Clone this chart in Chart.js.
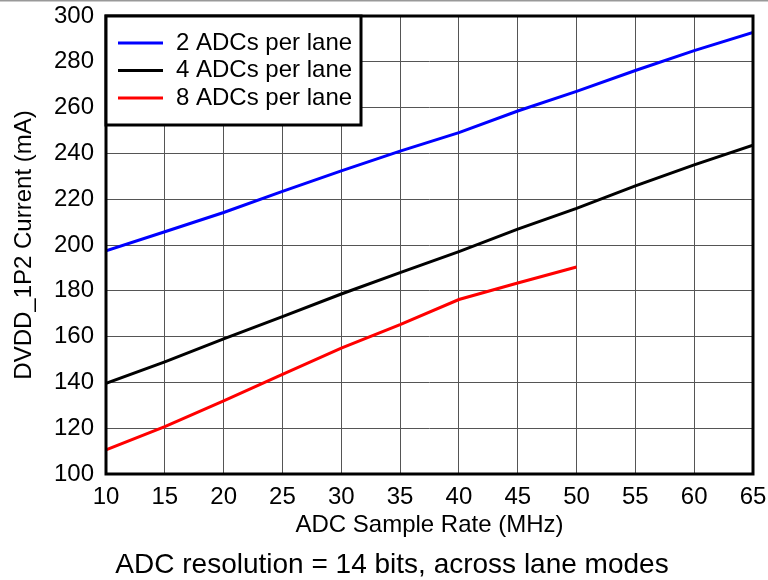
<!DOCTYPE html>
<html>
<head>
<meta charset="utf-8">
<script src="https://cdn.jsdelivr.net/npm/chart.js@4"></script>
<style>
  body { margin: 0; background: #fff; }
  #wrap { width: 768px; height: 580px; position: relative; }
</style>
</head>
<body>
<div id="wrap"><canvas id="chart" width="768" height="580"></canvas></div>
<script>
// sample rate (MHz)
const rates = [10, 15, 20, 25, 30, 35, 40, 45, 50, 55, 60, 65];
const adc2 = [197.5, 205.8, 214.2, 223.4, 232.4, 241, 249.1, 258.5, 267.1, 276.2, 284.9, 292.8];
const adc4 = [139.6, 149, 159, 168.7, 178.6, 187.9, 197.1, 206.9, 216, 225.8, 235, 243.6];
const adc8 = [110.5, 120.7, 131.9, 143.5, 155, 165.2, 176.2, 183.4, 190.4];
const seriesNames = ["2 ADCs per lane", "4 ADCs per lane", "8 ADCs per lane"];
const caption = "ADC resolution = 14 bits, across lane modes";

const FONT = "'Liberation Sans', Arial, Helvetica, sans-serif";

function pts(vals) {
    return vals.map((v, i) => ({ x: rates[i], y: v }));
}

function noPad(s) {
    s.paddingTop = 0; s.paddingBottom = 0; s.paddingLeft = 0; s.paddingRight = 0;
}

// frame, legend box and caption
const extras = {
    id: 'extras',
    afterDraw(chart) {
        const ctx = chart.ctx;
        const a = chart.chartArea;
        ctx.save();
        // top grey rule of the picture
        ctx.fillStyle = '#999';
        ctx.fillRect(0, 0, 768, 1.5);

        ctx.strokeStyle = '#000';
        ctx.lineWidth = 3;
        ctx.strokeRect(a.left, a.top, a.right - a.left, a.bottom - a.top);

        // legend
        const lx = a.left, ly = a.top, lw = 255, lh = 109;
        ctx.fillStyle = '#fff';
        ctx.fillRect(lx, ly, lw, lh);
        ctx.strokeRect(lx, ly, lw, lh);
        ctx.font = "24px " + FONT;
        ctx.textBaseline = 'middle';
        chart.data.datasets.forEach((ds, i) => {
            const y = ly + 27 + i * 27.5;
            ctx.strokeStyle = ds.borderColor;
            ctx.lineWidth = 3;
            ctx.beginPath();
            ctx.moveTo(lx + 12, y);
            ctx.lineTo(lx + 57, y);
            ctx.stroke();
            ctx.fillStyle = '#000';
            ctx.fillText(ds.label, lx + 70, y);
        });

        ctx.font = "28px " + FONT;
        ctx.textAlign = 'center';
        ctx.fillStyle = '#000';
        ctx.fillText(caption, 392, 565);
        ctx.restore();
    }
};

new Chart(document.getElementById('chart'), {
    type: 'line',
    data: {
        datasets: [
            { label: seriesNames[0], data: pts(adc2), borderColor: '#0000ff' },
            { label: seriesNames[1], data: pts(adc4), borderColor: '#000000' },
            { label: seriesNames[2], data: pts(adc8), borderColor: '#ff0000' }
        ]
    },
    options: {
        responsive: false,
        animation: false,
        layout: { padding: { top: 16, right: 15, bottom: 38, left: 0 } },
        elements: {
            line: { borderWidth: 3, tension: 0 },
            point: { radius: 0 }
        },
        plugins: {
            legend: { display: false },
            tooltip: { enabled: false }
        },
        scales: {
            x: {
                type: 'linear',
                min: 10,
                max: 65,
                ticks: { stepSize: 5, color: '#000', padding: 9, font: { family: FONT, size: 24 } },
                grid: { color: '#555', lineWidth: 1, drawTicks: false },
                border: { display: false },
                title: { display: true, text: 'ADC Sample Rate (MHz)', color: '#000', padding: { top: 0, bottom: 2 }, font: { family: FONT, size: 24 } },
                afterFit(s) { s.height = 68; noPad(s); }
            },
            y: {
                min: 100,
                max: 300,
                ticks: { stepSize: 20, color: '#000', padding: 12, font: { family: FONT, size: 24 } },
                grid: { color: '#555', lineWidth: 1, drawTicks: false },
                border: { display: false },
                title: { display: true, text: 'DVDD_1P2 Current (mA)', color: '#000', padding: { top: 10, bottom: 0 }, font: { family: FONT, size: 24 } },
                afterFit(s) { s.width = 106; noPad(s); }
            }
        }
    },
    plugins: [extras]
});
</script>
</body>
</html>
